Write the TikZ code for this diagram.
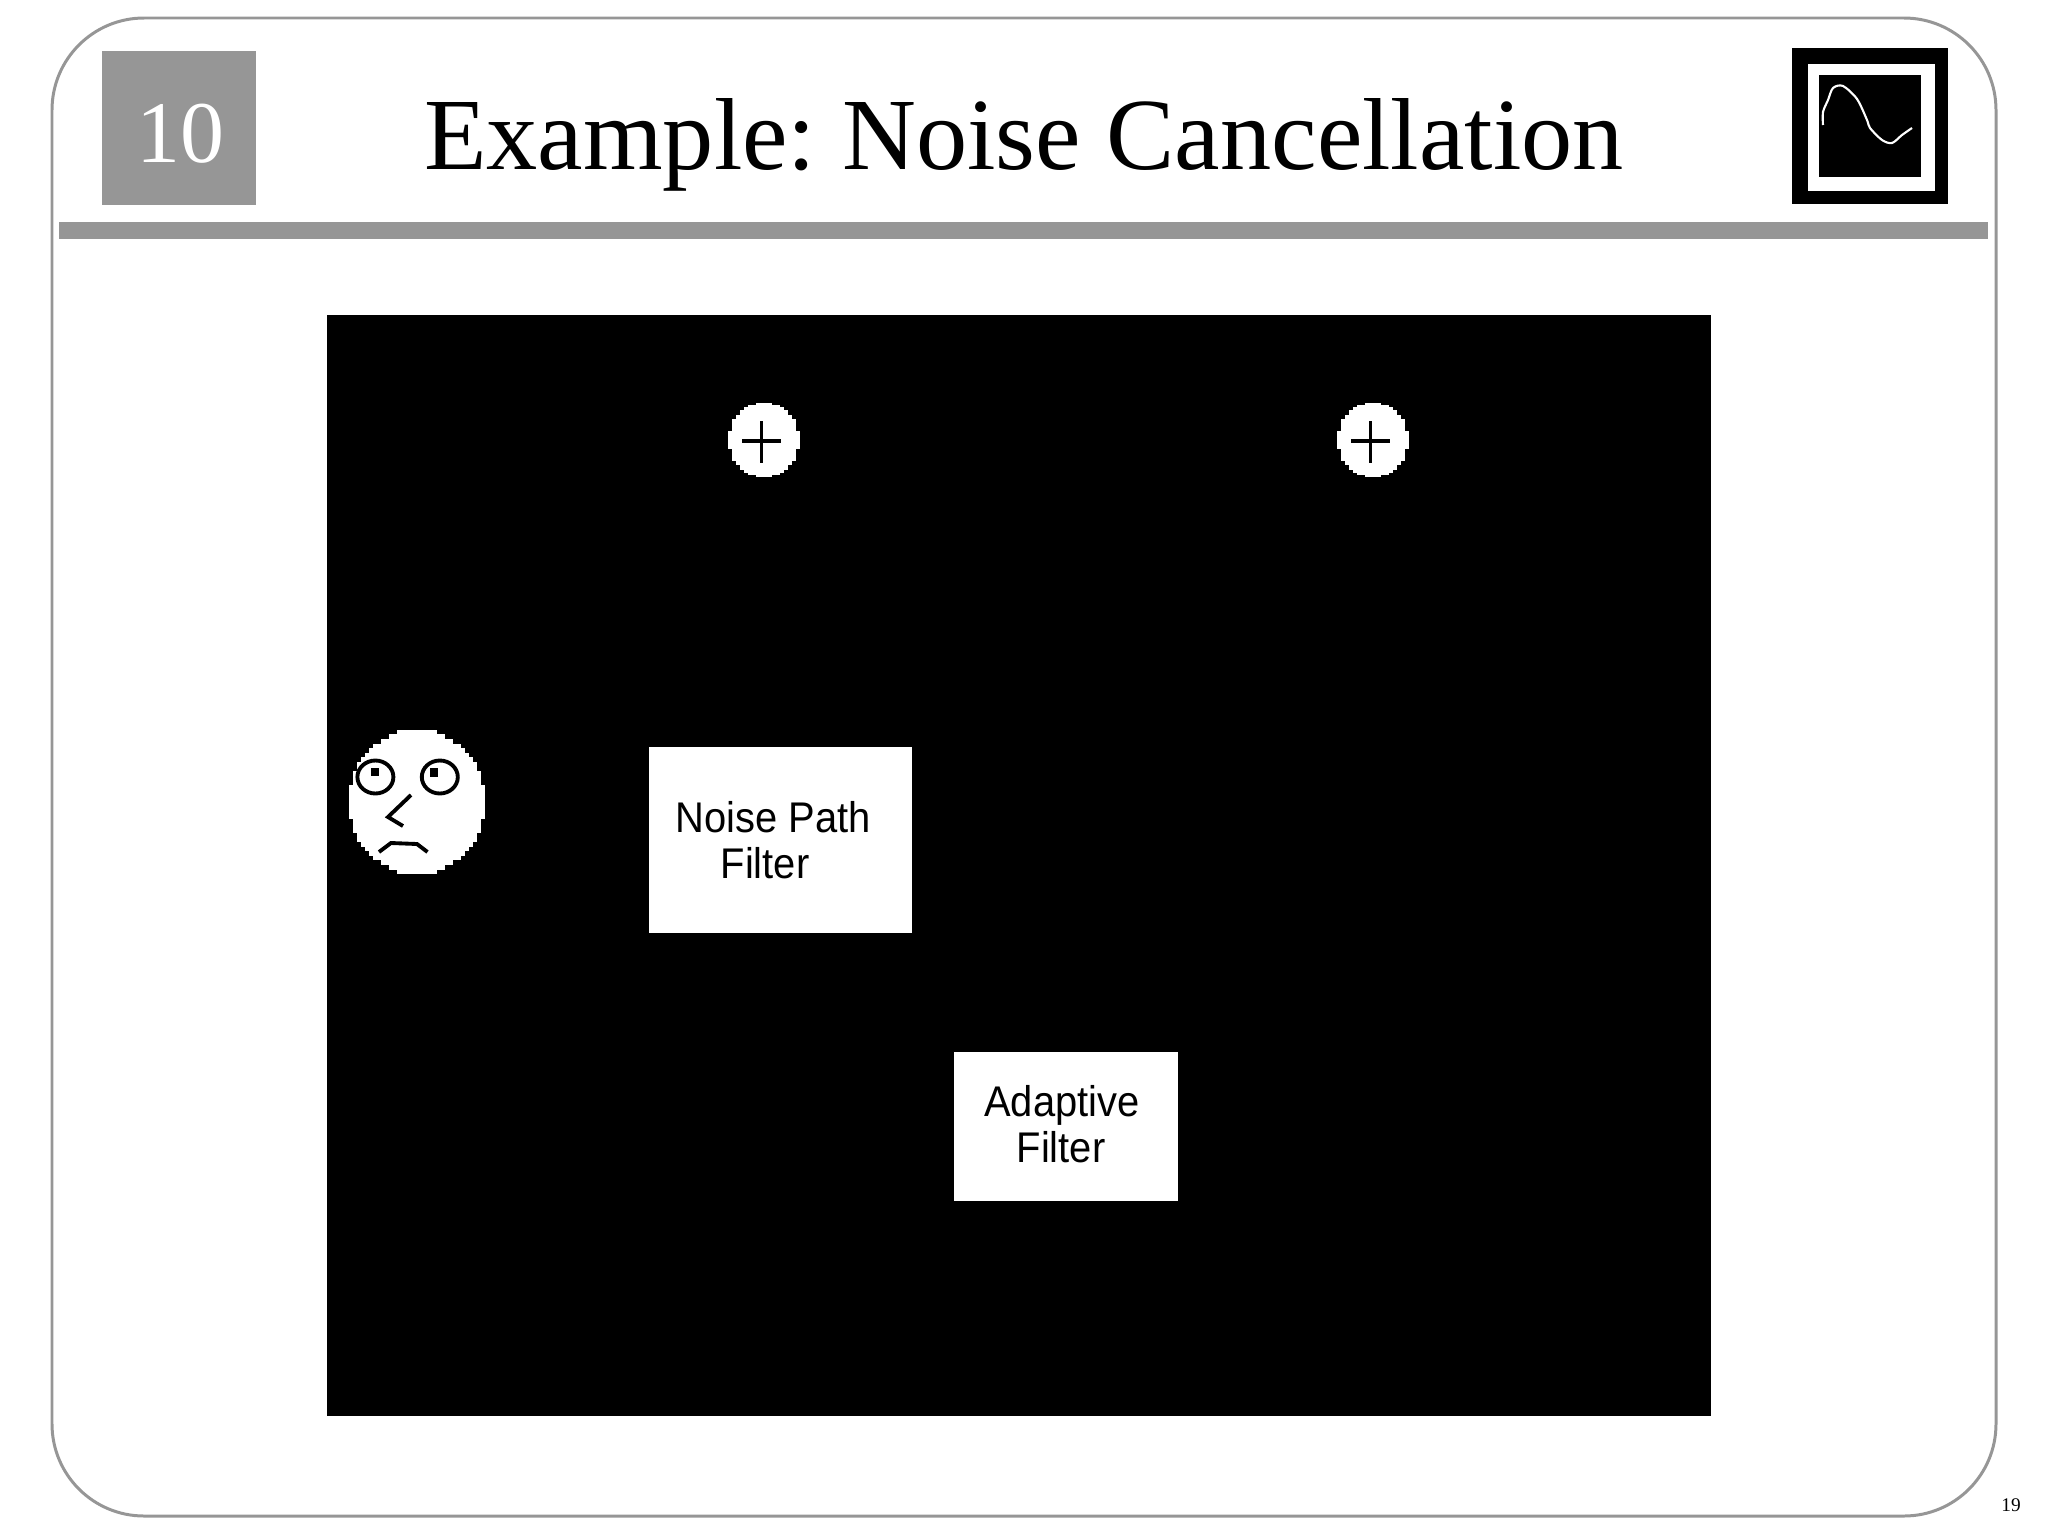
\documentclass[tikz,border=0pt]{standalone}
\usepackage{fontspec}
\setmainfont{Liberation Serif}
\setsansfont{Liberation Sans}
\definecolor{slidegray}{RGB}{150,150,150}
\newcommand{\pixblob}[4]{
\foreach \row in {-15,...,15} {
\pgfmathsetmacro{\rowy}{#2+\row*#4/15.5}
\pgfmathsetmacro{\half}{round(#3*sqrt(1-(\row/15.6)^2)/4)*4}
\fill[white] (#1-\half,\rowy-#4/15.5/2-0.4) rectangle (#1+\half,\rowy+#4/15.5/2+0.4);
}
}
\tikzset{
  x=0.01cm, y=-0.01cm,
  ink/.style={line width=1.1pt},
  boxlabel/.style={font=\sffamily\fontsize{12.2}{14}\selectfont, inner sep=0pt, anchor=base, xscale=0.93, transform shape},
}
\begin{document}
\begin{tikzpicture}
\useasboundingbox (0,0) rectangle (2048,1536);
%slide frame
\draw[slidegray,line width=0.85pt,rounded corners=0.92cm] (52,18) rectangle (1996,1516);
\fill[slidegray] (59,222) rectangle (1988,239);
%chapter number
\fill[slidegray] (102,51) rectangle (256,205);
\node[text=white,font=\fontsize{25}{30}\selectfont,inner sep=0pt,anchor=base] (chapter) at (180,162) {10};
\node[font=\fontsize{29.1}{34}\selectfont,inner sep=0pt,anchor=base] (title) at (1024,169) {Example:\hspace{-2.3pt} Noise Cancellation};
\node[font=\fontsize{5.5}{6}\selectfont,inner sep=0pt,anchor=base] (page) at (2011,1511) {19};
%scope icon
\fill[black] (1792,48) rectangle (1948,204);
\fill[white] (1808,64) rectangle (1935,191);
\fill[black] (1819,75) rectangle (1921,177);
\draw[white,line width=0.6pt] plot[smooth,tension=0.5] coordinates {(1823,125) (1823,112) (1828,100) (1833,88) (1843,86) (1857,99) (1867,120) (1870,128) (1882,140) (1892,143) (1902,135) (1912,128)};
%black panel
\fill[black] (327,315) rectangle (1711,1416);
%summing points
\pixblob{764}{440}{35}{37}
\pixblob{1373}{440}{35}{37}
\draw[black,ink] (742,441) -- (781,441);
\draw[black,ink] (761.5,421) -- (761.5,463);
\draw[black,ink] (1351,441) -- (1390,441);
\draw[black,ink] (1370.5,421) -- (1370.5,463);
%face
\pixblob{416.5}{802}{68}{72}
\draw[black,ink] (375.4,777) ellipse (18 and 16.5);
\draw[black,ink] (439.8,777) ellipse (18 and 16.5);
\fill[black] (370.6,768) rectangle (379.3,776);
\fill[black] (429.5,768) rectangle (437.8,777);
\draw[black,ink] (411,795) -- (388,817) -- (403,826);
\draw[black,ink] (379,852) -- (391,843) -- (417,844) -- (427.5,852);
%filters
\fill[white] (649,747) rectangle (911.5,933);
\node[boxlabel] (noiseA) at (773,832) {Noise Path};
\node[boxlabel] (noiseB) at (765,878) {Filter};
\fill[white] (954,1052) rectangle (1178,1201);
\node[boxlabel] (adaptA) at (1062,1116) {Adaptive};
\node[boxlabel] (adaptB) at (1061,1162) {Filter};
\end{tikzpicture}
\end{document}
